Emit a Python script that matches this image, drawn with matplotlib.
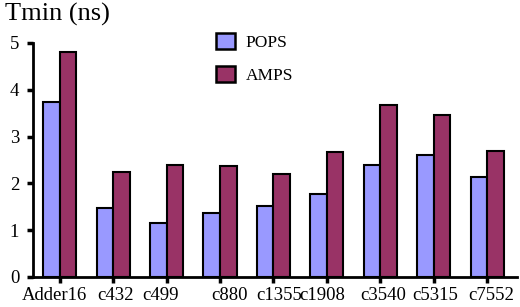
import numpy as np
import matplotlib
matplotlib.use("Agg")
import matplotlib.pyplot as plt
import matplotlib.transforms as mtransforms
from matplotlib.patches import Patch

# data
circuits = ["Adder16", "c432", "c499", "c880", "c1355", "c1908", "c3540", "c5315", "c7552"]
pops = [3.74, 1.47, 1.15, 1.37, 1.52, 1.77, 2.39, 2.61, 2.14]
amps = [4.81, 2.24, 2.39, 2.37, 2.20, 2.67, 3.67, 3.46, 2.69]

plt.rcParams['font.family'] = ['Liberation Serif', 'DejaVu Serif']

fig = plt.figure(figsize=(5.2, 3.07), dpi=100)
ax = fig.add_axes([0.0635, 0.098, 0.93, 0.762])

x = np.arange(len(circuits))
w = 0.31
ax.bar(x - w / 2, pops, w, color="#9999FF", edgecolor="black", linewidth=1.5, label="POPS")
ax.bar(x + w / 2, amps, w, color="#993366", edgecolor="black", linewidth=1.5, label="AMPS")

ax.set_xlim(-0.5, 8.55)
ax.set_ylim(0, 5)
ax.set_yticks(range(6))
ax.set_xticks(x)
ax.set_xticklabels(circuits, fontsize=13.5)
ax.tick_params(axis='y', labelsize=13.5, length=4, width=2.5, direction='out', pad=6)
ax.tick_params(axis='x', length=4, width=2.5, direction='out', pad=3)

# the original labels sit a little off their ticks
shifts = [-5, 2, -6, 9, 6, -5, 3, 1, 4]
for lab, dx in zip(ax.get_xticklabels(), shifts):
    lab.set_transform(lab.get_transform() + mtransforms.ScaledTranslation(dx / 100, 0, fig.dpi_scale_trans))

for s in ["top", "right"]:
    ax.spines[s].set_visible(False)
for s in ["left", "bottom"]:
    ax.spines[s].set_linewidth(2)

fig.text(0.01, 0.99, "Tmin (ns)", fontsize=19, va="top", ha="left")

handles = [Patch(facecolor="#9999FF", edgecolor="black", linewidth=1.8),
           Patch(facecolor="#993366", edgecolor="black", linewidth=1.8)]
fig.legend(handles, ["POPS", "AMPS"], loc="upper left", bbox_to_anchor=(0.385, 0.945),
           frameon=False, fontsize=12.5, handlelength=1.1, handleheight=1.1,
           handletextpad=0.6, labelspacing=0.85)

fig.savefig("out.png", dpi=100)
